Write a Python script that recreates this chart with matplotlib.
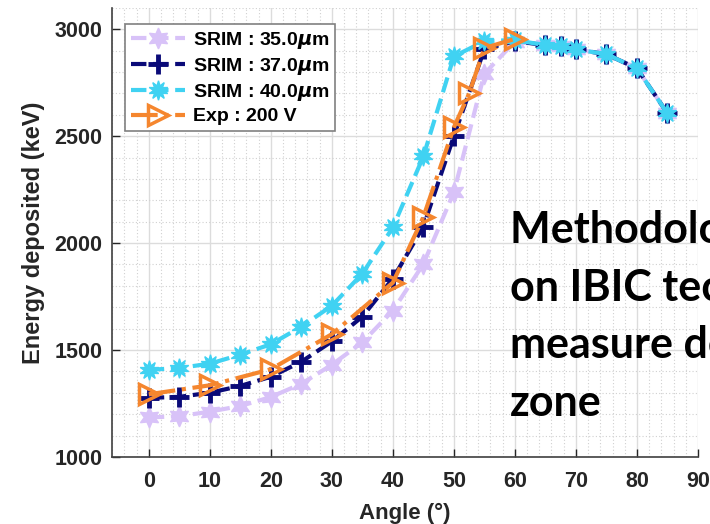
import matplotlib
matplotlib.use('Agg')
import matplotlib.pyplot as plt
from matplotlib.ticker import MultipleLocator

plt.rcParams['font.family'] = ['Liberation Sans', 'DejaVu Sans']
plt.rcParams['font.weight'] = 'bold'
plt.rcParams['mathtext.fontset'] = 'dejavusans'

# SRIM simulations share the same angle grid
angle_srim = [0, 5, 10, 15, 20, 25, 30, 35, 40, 45, 50, 55, 60, 65, 67.5, 70, 75, 80, 85]
srim_35 = [1185, 1190, 1212, 1238, 1280, 1342, 1431, 1536, 1684, 1902, 2238, 2792, 2942,
           2925, 2920, 2906, 2883, 2817, 2607]
srim_37 = [1276, 1281, 1300, 1332, 1375, 1445, 1540, 1656, 1834, 2077, 2500, 2906, 2945,
           2925, 2920, 2906, 2883, 2817, 2607]
srim_40 = [1407, 1416, 1436, 1478, 1527, 1609, 1707, 1857, 2073, 2405, 2873, 2944, 2950,
           2925, 2920, 2906, 2883, 2817, 2607]

# measured at 200 V
angle_exp = [0, 10, 20, 30, 40, 45, 50, 52.5, 55, 60]
exp_200 = [1293, 1335, 1410, 1574, 1815, 2122, 2541, 2700, 2912, 2955]

fig = plt.figure(figsize=(7.1, 5.24), dpi=100)
ax = fig.add_axes([0.158, 0.128, 0.825, 0.857])

ax.plot(angle_srim, srim_35, '--', color='#D8C2F8', lw=3, marker=(6, 1, 0), ms=15,
        mfc='#D8C2F8', mec='#D8C2F8', label=r'SRIM : 35.0$\mu$m')
ax.plot(angle_srim, srim_37, '--', color='#0A0A78', lw=3, marker='+', ms=15, mew=3.5,
        label=r'SRIM : 37.0$\mu$m')
ax.plot(angle_srim, srim_40, '--', color='#40D2F2', lw=3, marker=(10, 1, 0), ms=14,
        mfc='#40D2F2', mec='#40D2F2', label=r'SRIM : 40.0$\mu$m')
ax.plot(angle_exp, exp_200, '-.', color='#F5862E', lw=3, marker='>', ms=15, mew=2.5,
        mfc='none', mec='#F5862E', label='Exp : 200 V')

ax.set_xlim(-6, 90)
ax.set_ylim(1000, 3100)
ax.xaxis.set_major_locator(MultipleLocator(10))
ax.xaxis.set_minor_locator(MultipleLocator(2))
ax.yaxis.set_major_locator(MultipleLocator(500))
ax.yaxis.set_minor_locator(MultipleLocator(100))
ax.grid(which='major', color='#dcdcdc', lw=1.0)
ax.grid(which='minor', color='#d0d0d0', lw=0.8, ls=(0, (1, 2)))
ax.set_axisbelow(True)

for side in ['top', 'right']:
    ax.spines[side].set_visible(False)
for side in ['left', 'bottom']:
    ax.spines[side].set_color('#404040')
    ax.spines[side].set_linewidth(1.2)

ax.tick_params(which='major', direction='in', length=6, width=1, colors='#262626',
               labelsize=15.5)
ax.tick_params(axis='y', pad=7)
ax.tick_params(axis='x', pad=10)
ax.tick_params(which='minor', length=0)
for lab in ax.get_xticklabels() + ax.get_yticklabels():
    lab.set_fontweight('bold')

ax.set_xlabel('Angle (°)', fontsize=16, fontweight='bold', color='#262626', labelpad=8)
ax.set_ylabel('Energy deposited (keV)', fontsize=17, fontweight='bold', color='#262626',
              labelpad=7)

leg = ax.legend(loc='upper left', bbox_to_anchor=(0.005, 0.985), fontsize=14,
                handlelength=2.8, handletextpad=0.4, borderpad=0.3, labelspacing=0.25,
                fancybox=False, framealpha=1, edgecolor='#808080')
leg.get_frame().set_linewidth(1.2)

# slide caption laid over the plot
caption = ['Methodology based', 'on IBIC technique to', 'measure depleted', 'zone']
for i, line in enumerate(caption):
    fig.text(510 / 710, 1 - (243 + i * 57.5) / 524, line, fontsize=31, fontweight='bold',
             family='Lato', color='black', va='baseline', ha='left')

fig.savefig('out.png', dpi=100)
